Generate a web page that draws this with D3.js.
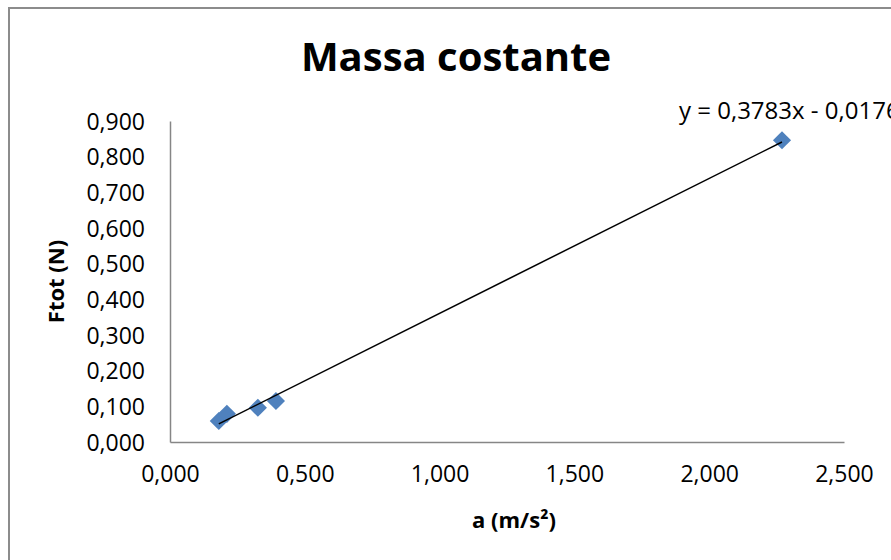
<!DOCTYPE html>
<html>
<head>
<meta charset="utf-8">
<script src="https://cdn.jsdelivr.net/npm/d3@7"></script>
<style>
  html, body { margin: 0; padding: 0; background: #fff; }
  svg { display: block; font-family: "Open Sans", "Noto Sans", sans-serif; }
</style>
</head>
<body>
<svg id="chart" width="891" height="560"></svg>
<script>
// ---- data ----
const accel = [0.181, 0.211, 0.326, 0.393, 2.270];   // a (m/s²)
const force = [0.059, 0.079, 0.096, 0.115, 0.846];   // Ftot (N)
const xTicks = [0, 0.5, 1.0, 1.5, 2.0, 2.5];
const yTicks = [0, 0.1, 0.2, 0.3, 0.4, 0.5, 0.6, 0.7, 0.8, 0.9];
const trendSlope = 0.3783;
const trendIntercept = -0.0176;
const chartTitle = "Massa costante";
const xTitle = "a (m/s²)";
const yTitle = "Ftot (N)";
const equationLabel = "y = 0,3783x - 0,0176";

// ---- layout ----
const svg = d3.select("#chart");
const W = 891, H = 560;
const plot = { left: 170, right: 844, top: 121, bottom: 442 };

const x = d3.scaleLinear().domain([0, 2.5]).range([plot.left, plot.right]);
const y = d3.scaleLinear().domain([0, 0.9]).range([plot.bottom, plot.top]);

const fmt = v => d3.format(".3f")(v).replace(".", ",");

// outer chart border (only left/top visible)
svg.append("rect")
  .attr("x", 9).attr("y", 8)
  .attr("width", W + 20).attr("height", H + 20)
  .attr("fill", "none").attr("stroke", "#8c8c8c").attr("stroke-width", 2);

// title
svg.append("text")
  .attr("x", 456).attr("y", 71)
  .attr("text-anchor", "middle")
  .attr("font-weight", "bold").attr("font-size", 40)
  .attr("fill", "#000")
  .text(chartTitle);

// axes
const xAxis = d3.axisBottom(x).tickValues(xTicks).tickFormat(fmt).tickSize(0).tickPadding(24);
const yAxis = d3.axisLeft(y).tickValues(yTicks).tickFormat(fmt).tickSize(0).tickPadding(25);

const gx = svg.append("g").attr("transform", `translate(0,${plot.bottom})`).call(xAxis);
const gy = svg.append("g").attr("transform", `translate(${plot.left},0)`).call(yAxis);

[gx, gy].forEach(g => {
  g.select(".domain").attr("stroke", "#868686").attr("stroke-width", 1.5);
  g.selectAll("text").attr("font-size", 23).attr("fill", "#000")
    .attr("font-family", "'Open Sans', sans-serif");
});
gy.selectAll("text").attr("dy", "0.36em");

// axis titles
svg.append("text")
  .attr("x", 514).attr("y", 528)
  .attr("text-anchor", "middle")
  .attr("font-weight", "bold").attr("font-size", 22)
  .text(xTitle);

svg.append("text")
  .attr("transform", `translate(64,${(plot.top + plot.bottom) / 2}) rotate(-90)`)
  .attr("text-anchor", "middle")
  .attr("font-weight", "bold").attr("font-size", 22)
  .text(yTitle);

// points
const pts = accel.map((a, i) => ({ a, f: force[i] }));
svg.append("g").selectAll("path")
  .data(pts).enter().append("path")
  .attr("transform", d => `translate(${x(d.a)},${y(d.f)})`)
  .attr("d", d3.symbol().type(d3.symbolDiamond2).size(210))
  .attr("fill", "#4f81bd");

// trendline
const x0 = d3.min(accel), x1 = d3.max(accel);
svg.append("line")
  .attr("x1", x(x0)).attr("y1", y(trendSlope * x0 + trendIntercept))
  .attr("x2", x(x1)).attr("y2", y(trendSlope * x1 + trendIntercept))
  .attr("stroke", "#000").attr("stroke-width", 1.5);

// equation label
svg.append("text")
  .attr("x", 679).attr("y", 119)
  .attr("font-size", 24)
  .attr("fill", "#000")
  .text(equationLabel);
</script>
</body>
</html>
